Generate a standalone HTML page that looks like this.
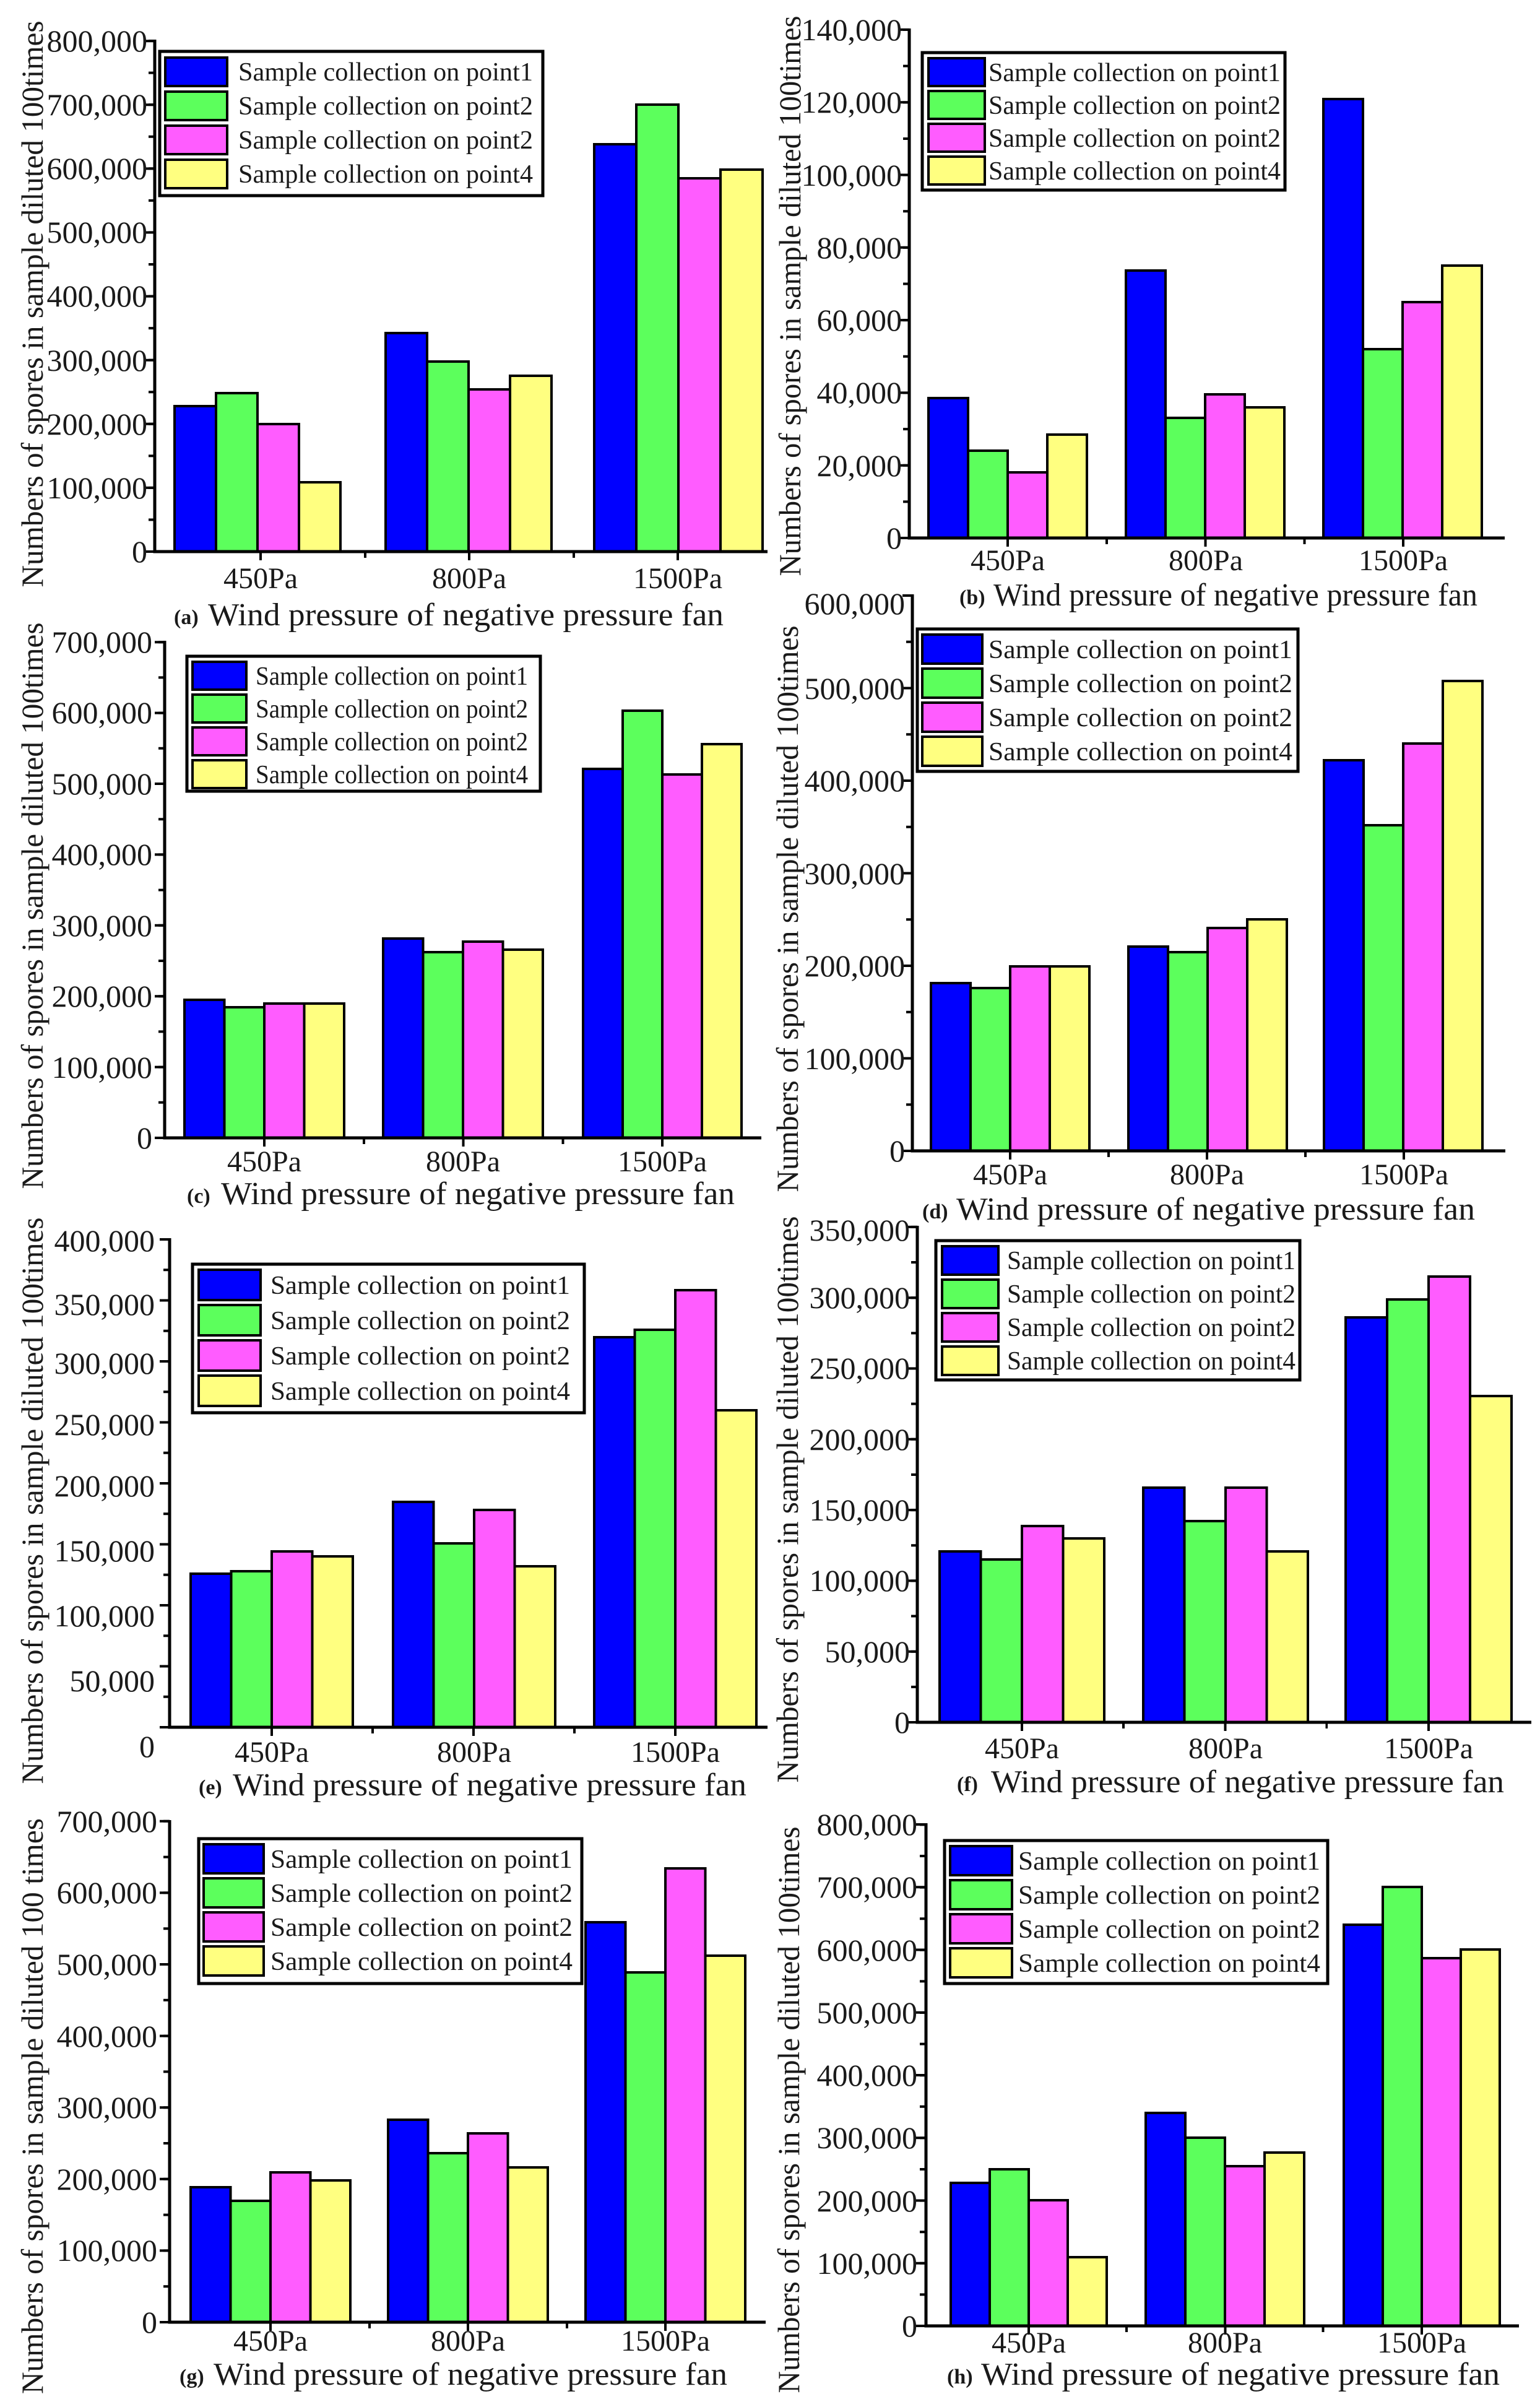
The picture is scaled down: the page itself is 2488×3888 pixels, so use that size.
<!DOCTYPE html>
<html><head><meta charset="utf-8">
<style>
html,body{margin:0;padding:0;background:#fff}
svg{display:block}
text{font-family:"Liberation Serif",serif;fill:#1a1a1a}
.bar rect{stroke:#000;stroke-width:4}
.B{fill:#0000ff}.G{fill:#5cff5c}.M{fill:#ff5cff}.Y{fill:#ffff80}
.ax{stroke:#000;stroke-width:5;fill:none}
.tl{font-size:50px;text-anchor:end}
.xl{font-size:48px;text-anchor:middle}
.yt{font-size:50px;text-anchor:middle}
.cp{font-size:34px;font-weight:bold}
.cm{font-size:52px}
.lg{font-size:42px}
.lbox{fill:#fff;stroke:#000;stroke-width:5}
</style></head><body>
<svg width="2488" height="3888" viewBox="0 0 2488 3888" xmlns="http://www.w3.org/2000/svg">
<rect width="2488" height="3888" fill="#fff"/>

<!-- ============ PANEL A ============ -->
<g class="bar">
<rect class="B" x="282" y="656" width="67" height="235"/><rect class="G" x="349" y="635" width="67" height="256"/><rect class="M" x="416" y="685" width="67" height="206"/><rect class="Y" x="483" y="779" width="67" height="112"/>
<rect class="B" x="623" y="538" width="67" height="353"/><rect class="G" x="690" y="584" width="67" height="307"/><rect class="M" x="757" y="629" width="67" height="262"/><rect class="Y" x="824" y="607" width="67" height="284"/>
<rect class="B" x="960" y="233" width="68" height="658"/><rect class="G" x="1028" y="169" width="68" height="722"/><rect class="M" x="1096" y="288" width="68" height="603"/><rect class="Y" x="1164" y="274" width="68" height="617"/>
</g>
<path class="ax" d="M250 64V891H1240"/>
<line x1="242" y1="893" x2="242" y2="60" stroke="#000" stroke-width="16" stroke-dasharray="4 99.1"/>
<line x1="245" y1="893" x2="245" y2="60" stroke="#000" stroke-width="10" stroke-dasharray="4 47.56"/>
<line x1="419" y1="898" x2="1100" y2="898" stroke="#000" stroke-width="14" stroke-dasharray="4 333"/>
<line x1="588" y1="896" x2="930" y2="896" stroke="#000" stroke-width="10" stroke-dasharray="4 333"/>
<text class="tl" x="238" y="908">0</text><text class="tl" x="238" y="805">100,000</text><text class="tl" x="238" y="702">200,000</text><text class="tl" x="238" y="599">300,000</text><text class="tl" x="238" y="495">400,000</text><text class="tl" x="238" y="392">500,000</text><text class="tl" x="238" y="289">600,000</text><text class="tl" x="238" y="186">700,000</text><text class="tl" x="238" y="83">800,000</text>
<text class="xl" x="421" y="950">450Pa</text><text class="xl" x="758" y="950">800Pa</text><text class="xl" x="1095" y="950">1500Pa</text>
<text class="yt" transform="translate(69,491) rotate(-90)" textLength="915" lengthAdjust="spacingAndGlyphs">Numbers of spores in sample diluted 100times</text>
<text class="cp" x="281" y="1008">(a)</text><text class="cm" x="336" y="1010" textLength="833" lengthAdjust="spacingAndGlyphs">Wind pressure of negative pressure fan</text>
<rect class="lbox" x="258" y="83" width="619" height="233"/>
<g class="bar"><rect class="B" x="267" y="93" width="100" height="46"/><rect class="G" x="267" y="148" width="100" height="46"/><rect class="M" x="267" y="203" width="100" height="46"/><rect class="Y" x="267" y="258" width="100" height="46"/></g>
<text class="lg" x="385" y="130" textLength="476" lengthAdjust="spacingAndGlyphs">Sample collection on point1</text>
<text class="lg" x="385" y="185" textLength="476" lengthAdjust="spacingAndGlyphs">Sample collection on point2</text>
<text class="lg" x="385" y="240" textLength="476" lengthAdjust="spacingAndGlyphs">Sample collection on point2</text>
<text class="lg" x="385" y="295" textLength="476" lengthAdjust="spacingAndGlyphs">Sample collection on point4</text>

<!-- ============ PANEL B ============ -->
<g class="bar">
<rect class="B" x="1500" y="643" width="64" height="226"/><rect class="G" x="1564" y="728" width="64" height="141"/><rect class="M" x="1628" y="763" width="64" height="106"/><rect class="Y" x="1692" y="702" width="64" height="167"/>
<rect class="B" x="1819" y="437" width="64" height="432"/><rect class="G" x="1883" y="675" width="64" height="194"/><rect class="M" x="1947" y="637" width="64" height="232"/><rect class="Y" x="2011" y="658" width="64" height="211"/>
<rect class="B" x="2138" y="160" width="64" height="709"/><rect class="G" x="2202" y="564" width="64" height="305"/><rect class="M" x="2266" y="488" width="64" height="381"/><rect class="Y" x="2330" y="429" width="64" height="440"/>
</g>
<path class="ax" d="M1469 46V869H2431"/>
<line x1="1461" y1="871" x2="1461" y2="44" stroke="#000" stroke-width="16" stroke-dasharray="4 113.3"/>
<line x1="1464" y1="871" x2="1464" y2="44" stroke="#000" stroke-width="10" stroke-dasharray="4 54.64"/>
<line x1="1626" y1="876" x2="2270" y2="876" stroke="#000" stroke-width="14" stroke-dasharray="4 315.5"/>
<line x1="1786" y1="874" x2="2110" y2="874" stroke="#000" stroke-width="10" stroke-dasharray="4 315.5"/>
<text class="tl" x="1457" y="886">0</text><text class="tl" x="1457" y="769">20,000</text><text class="tl" x="1457" y="651">40,000</text><text class="tl" x="1457" y="534">60,000</text><text class="tl" x="1457" y="417">80,000</text><text class="tl" x="1457" y="300">100,000</text><text class="tl" x="1457" y="182">120,000</text><text class="tl" x="1457" y="65">140,000</text>
<text class="xl" x="1628" y="921">450Pa</text><text class="xl" x="1948" y="921">800Pa</text><text class="xl" x="2267" y="921">1500Pa</text>
<text class="yt" transform="translate(1293,478) rotate(-90)" textLength="905" lengthAdjust="spacingAndGlyphs">Numbers of spores in sample diluted 100times</text>
<text class="cp" x="1550" y="976">(b)</text><text class="cm" x="1605" y="978" textLength="782" lengthAdjust="spacingAndGlyphs">Wind pressure of negative pressure fan</text>
<rect class="lbox" x="1490" y="85" width="586" height="222"/>
<g class="bar"><rect class="B" x="1500" y="94" width="91" height="45"/><rect class="G" x="1500" y="147" width="91" height="45"/><rect class="M" x="1500" y="200" width="91" height="45"/><rect class="Y" x="1500" y="253" width="91" height="45"/></g>
<text class="lg" x="1597" y="131" textLength="472" lengthAdjust="spacingAndGlyphs">Sample collection on point1</text>
<text class="lg" x="1597" y="184" textLength="472" lengthAdjust="spacingAndGlyphs">Sample collection on point2</text>
<text class="lg" x="1597" y="237" textLength="472" lengthAdjust="spacingAndGlyphs">Sample collection on point2</text>
<text class="lg" x="1597" y="290" textLength="472" lengthAdjust="spacingAndGlyphs">Sample collection on point4</text>

<!-- ============ PANEL C ============ -->
<g class="bar">
<rect class="B" x="298" y="1615" width="64.5" height="223"/><rect class="G" x="362.5" y="1627" width="64.5" height="211"/><rect class="M" x="427" y="1621" width="64.5" height="217"/><rect class="Y" x="491.5" y="1621" width="64.5" height="217"/>
<rect class="B" x="619" y="1516" width="64.5" height="322"/><rect class="G" x="683.5" y="1538" width="64.5" height="300"/><rect class="M" x="748" y="1521" width="64.5" height="317"/><rect class="Y" x="812.5" y="1534" width="64.5" height="304"/>
<rect class="B" x="942" y="1242" width="64" height="596"/><rect class="G" x="1006" y="1148" width="64" height="690"/><rect class="M" x="1070" y="1251" width="64" height="587"/><rect class="Y" x="1134" y="1202" width="64" height="636"/>
</g>
<path class="ax" d="M266 1035V1838H1230"/>
<line x1="258" y1="1840" x2="258" y2="1033" stroke="#000" stroke-width="16" stroke-dasharray="4 110.4"/>
<line x1="261" y1="1840" x2="261" y2="1033" stroke="#000" stroke-width="10" stroke-dasharray="4 53.2"/>
<line x1="425" y1="1845" x2="1075" y2="1845" stroke="#000" stroke-width="14" stroke-dasharray="4 317.5"/>
<line x1="586" y1="1843" x2="912" y2="1843" stroke="#000" stroke-width="10" stroke-dasharray="4 317.5"/>
<text class="tl" x="246" y="1855">0</text><text class="tl" x="246" y="1741">100,000</text><text class="tl" x="246" y="1626">200,000</text><text class="tl" x="246" y="1512">300,000</text><text class="tl" x="246" y="1397">400,000</text><text class="tl" x="246" y="1283">500,000</text><text class="tl" x="246" y="1168">600,000</text><text class="tl" x="246" y="1054">700,000</text>
<text class="xl" x="427" y="1892">450Pa</text><text class="xl" x="748" y="1892">800Pa</text><text class="xl" x="1070" y="1892">1500Pa</text>
<text class="yt" transform="translate(69,1463) rotate(-90)" textLength="915" lengthAdjust="spacingAndGlyphs">Numbers of spores in sample diluted 100times</text>
<text class="cp" x="302" y="1943">(c)</text><text class="cm" x="357" y="1945" textLength="830" lengthAdjust="spacingAndGlyphs">Wind pressure of negative pressure fan</text>
<rect class="lbox" x="302" y="1060" width="571" height="218"/>
<g class="bar"><rect class="B" x="311" y="1069" width="87" height="45"/><rect class="G" x="311" y="1122" width="87" height="45"/><rect class="M" x="311" y="1175" width="87" height="45"/><rect class="Y" x="311" y="1228" width="87" height="45"/></g>
<text class="lg" x="413" y="1106" textLength="440" lengthAdjust="spacingAndGlyphs">Sample collection on point1</text>
<text class="lg" x="413" y="1159" textLength="440" lengthAdjust="spacingAndGlyphs">Sample collection on point2</text>
<text class="lg" x="413" y="1212" textLength="440" lengthAdjust="spacingAndGlyphs">Sample collection on point2</text>
<text class="lg" x="413" y="1265" textLength="440" lengthAdjust="spacingAndGlyphs">Sample collection on point4</text>

<!-- ============ PANEL D ============ -->
<g class="bar">
<rect class="B" x="1504" y="1588" width="64" height="271"/><rect class="G" x="1568" y="1596" width="64" height="263"/><rect class="M" x="1632" y="1561" width="64" height="298"/><rect class="Y" x="1696" y="1561" width="64" height="298"/>
<rect class="B" x="1823" y="1529" width="64" height="330"/><rect class="G" x="1887" y="1538" width="64" height="321"/><rect class="M" x="1951" y="1499" width="64" height="360"/><rect class="Y" x="2015" y="1485" width="64" height="374"/>
<rect class="B" x="2139" y="1228" width="64" height="631"/><rect class="G" x="2203" y="1333" width="64" height="526"/><rect class="M" x="2267" y="1201" width="64" height="658"/><rect class="Y" x="2331" y="1100" width="64" height="759"/>
</g>
<path class="ax" d="M1474 960V1859H2432"/>
<line x1="1466" y1="1861" x2="1466" y2="958" stroke="#000" stroke-width="16" stroke-dasharray="4 145.5"/>
<line x1="1469" y1="1861" x2="1469" y2="958" stroke="#000" stroke-width="10" stroke-dasharray="4 70.75"/>
<line x1="1630" y1="1866" x2="2272" y2="1866" stroke="#000" stroke-width="14" stroke-dasharray="4 314"/>
<line x1="1789" y1="1864" x2="2111" y2="1864" stroke="#000" stroke-width="10" stroke-dasharray="4 314"/>
<text class="tl" x="1462" y="1876">0</text><text class="tl" x="1462" y="1727">100,000</text><text class="tl" x="1462" y="1577">200,000</text><text class="tl" x="1462" y="1428">300,000</text><text class="tl" x="1462" y="1278">400,000</text><text class="tl" x="1462" y="1129">500,000</text><text class="tl" x="1462" y="992">600,000</text>
<text class="xl" x="1632" y="1913">450Pa</text><text class="xl" x="1950" y="1913">800Pa</text><text class="xl" x="2268" y="1913">1500Pa</text>
<text class="yt" transform="translate(1289,1468) rotate(-90)" textLength="915" lengthAdjust="spacingAndGlyphs">Numbers of spores in sample diluted 100times</text>
<text class="cp" x="1490" y="1968">(d)</text><text class="cm" x="1545" y="1970" textLength="838" lengthAdjust="spacingAndGlyphs">Wind pressure of negative pressure fan</text>
<rect class="lbox" x="1482" y="1016" width="615" height="230"/>
<g class="bar"><rect class="B" x="1490" y="1025" width="97" height="47"/><rect class="G" x="1490" y="1080" width="97" height="47"/><rect class="M" x="1490" y="1135" width="97" height="47"/><rect class="Y" x="1490" y="1190" width="97" height="47"/></g>
<text class="lg" x="1597" y="1063" textLength="491" lengthAdjust="spacingAndGlyphs">Sample collection on point1</text>
<text class="lg" x="1597" y="1118" textLength="491" lengthAdjust="spacingAndGlyphs">Sample collection on point2</text>
<text class="lg" x="1597" y="1173" textLength="491" lengthAdjust="spacingAndGlyphs">Sample collection on point2</text>
<text class="lg" x="1597" y="1228" textLength="491" lengthAdjust="spacingAndGlyphs">Sample collection on point4</text>

<!-- ============ PANEL E ============ -->
<g class="bar">
<rect class="B" x="308" y="2542" width="65.5" height="248"/><rect class="G" x="373.5" y="2538" width="65.5" height="252"/><rect class="M" x="439" y="2506" width="65.5" height="284"/><rect class="Y" x="504.5" y="2514" width="65.5" height="276"/>
<rect class="B" x="635" y="2426" width="65.5" height="364"/><rect class="G" x="700.5" y="2493" width="65.5" height="297"/><rect class="M" x="766" y="2439" width="65.5" height="351"/><rect class="Y" x="831.5" y="2530" width="65.5" height="260"/>
<rect class="B" x="960" y="2160" width="65.5" height="630"/><rect class="G" x="1025.5" y="2148" width="65.5" height="642"/><rect class="M" x="1091" y="2084" width="65.5" height="706"/><rect class="Y" x="1156.5" y="2278" width="65.5" height="512"/>
</g>
<path class="ax" d="M274 2000V2790H1240"/>
<line x1="266" y1="2792" x2="266" y2="1998" stroke="#000" stroke-width="16" stroke-dasharray="4 94.5"/>
<line x1="269" y1="2792" x2="269" y2="1998" stroke="#000" stroke-width="10" stroke-dasharray="4 45.25"/>
<line x1="437" y1="2797" x2="1096" y2="2797" stroke="#000" stroke-width="14" stroke-dasharray="4 322"/>
<line x1="600" y1="2795" x2="930" y2="2795" stroke="#000" stroke-width="10" stroke-dasharray="4 322"/>
<text class="tl" x="250" y="2838">0</text><text class="tl" x="250" y="2732">50,000</text><text class="tl" x="250" y="2627">100,000</text><text class="tl" x="250" y="2522">150,000</text><text class="tl" x="250" y="2417">200,000</text><text class="tl" x="250" y="2318">250,000</text><text class="tl" x="250" y="2219">300,000</text><text class="tl" x="250" y="2124">350,000</text><text class="tl" x="250" y="2021">400,000</text>
<text class="xl" x="439" y="2846">450Pa</text><text class="xl" x="766" y="2846">800Pa</text><text class="xl" x="1091" y="2846">1500Pa</text>
<text class="yt" transform="translate(69,2424) rotate(-90)" textLength="915" lengthAdjust="spacingAndGlyphs">Numbers of spores in sample diluted 100times</text>
<text class="cp" x="321" y="2898">(e)</text><text class="cm" x="376" y="2900" textLength="830" lengthAdjust="spacingAndGlyphs">Wind pressure of negative pressure fan</text>
<rect class="lbox" x="311" y="2042" width="633" height="240"/>
<g class="bar"><rect class="B" x="321" y="2051" width="100" height="49"/><rect class="G" x="321" y="2108" width="100" height="49"/><rect class="M" x="321" y="2165" width="100" height="49"/><rect class="Y" x="321" y="2222" width="100" height="49"/></g>
<text class="lg" x="437" y="2090" textLength="484" lengthAdjust="spacingAndGlyphs">Sample collection on point1</text>
<text class="lg" x="437" y="2147" textLength="484" lengthAdjust="spacingAndGlyphs">Sample collection on point2</text>
<text class="lg" x="437" y="2204" textLength="484" lengthAdjust="spacingAndGlyphs">Sample collection on point2</text>
<text class="lg" x="437" y="2261" textLength="484" lengthAdjust="spacingAndGlyphs">Sample collection on point4</text>

<!-- ============ PANEL F ============ -->
<g class="bar">
<rect class="B" x="1518" y="2506" width="66.5" height="276"/><rect class="G" x="1584.5" y="2519" width="66.5" height="263"/><rect class="M" x="1651" y="2465" width="66.5" height="317"/><rect class="Y" x="1717.5" y="2485" width="66.5" height="297"/>
<rect class="B" x="1847" y="2403" width="66.5" height="379"/><rect class="G" x="1913.5" y="2457" width="66.5" height="325"/><rect class="M" x="1980" y="2403" width="66.5" height="379"/><rect class="Y" x="2046.5" y="2506" width="66.5" height="276"/>
<rect class="B" x="2174" y="2128" width="67" height="654"/><rect class="G" x="2241" y="2099" width="67" height="683"/><rect class="M" x="2308" y="2062" width="67" height="720"/><rect class="Y" x="2375" y="2255" width="67" height="527"/>
</g>
<path class="ax" d="M1482 1980V2782H2474"/>
<line x1="1474" y1="2784" x2="1474" y2="1978" stroke="#000" stroke-width="16" stroke-dasharray="4 110.3"/>
<line x1="1477" y1="2784" x2="1477" y2="1978" stroke="#000" stroke-width="10" stroke-dasharray="4 53.15"/>
<line x1="1649" y1="2789" x2="2313" y2="2789" stroke="#000" stroke-width="14" stroke-dasharray="4 324.5"/>
<line x1="1813" y1="2787" x2="2145" y2="2787" stroke="#000" stroke-width="10" stroke-dasharray="4 324.5"/>
<text class="tl" x="1470" y="2799">0</text><text class="tl" x="1470" y="2685">50,000</text><text class="tl" x="1470" y="2570">100,000</text><text class="tl" x="1470" y="2456">150,000</text><text class="tl" x="1470" y="2342">200,000</text><text class="tl" x="1470" y="2227">250,000</text><text class="tl" x="1470" y="2113">300,000</text><text class="tl" x="1470" y="2004">350,000</text>
<text class="xl" x="1651" y="2840">450Pa</text><text class="xl" x="1980" y="2840">800Pa</text><text class="xl" x="2308" y="2840">1500Pa</text>
<text class="yt" transform="translate(1289,2422) rotate(-90)" textLength="915" lengthAdjust="spacingAndGlyphs">Numbers of spores in sample diluted 100times</text>
<text class="cp" x="1546" y="2893">(f)</text><text class="cm" x="1601" y="2895" textLength="829" lengthAdjust="spacingAndGlyphs">Wind pressure of negative pressure fan</text>
<rect class="lbox" x="1512" y="2004" width="588" height="225"/>
<g class="bar"><rect class="B" x="1522" y="2013" width="91" height="46"/><rect class="G" x="1522" y="2067" width="91" height="46"/><rect class="M" x="1522" y="2121" width="91" height="46"/><rect class="Y" x="1522" y="2175" width="91" height="46"/></g>
<text class="lg" x="1627" y="2050" textLength="466" lengthAdjust="spacingAndGlyphs">Sample collection on point1</text>
<text class="lg" x="1627" y="2104" textLength="466" lengthAdjust="spacingAndGlyphs">Sample collection on point2</text>
<text class="lg" x="1627" y="2158" textLength="466" lengthAdjust="spacingAndGlyphs">Sample collection on point2</text>
<text class="lg" x="1627" y="2212" textLength="466" lengthAdjust="spacingAndGlyphs">Sample collection on point4</text>

<!-- ============ PANEL G ============ -->
<g class="bar">
<rect class="B" x="308" y="3533" width="64.5" height="218"/><rect class="G" x="372.5" y="3555" width="64.5" height="196"/><rect class="M" x="437" y="3509" width="64.5" height="242"/><rect class="Y" x="501.5" y="3522" width="64.5" height="229"/>
<rect class="B" x="627" y="3424" width="64.5" height="327"/><rect class="G" x="691.5" y="3478" width="64.5" height="273"/><rect class="M" x="756" y="3446" width="64.5" height="305"/><rect class="Y" x="820.5" y="3501" width="64.5" height="250"/>
<rect class="B" x="946" y="3105" width="64.5" height="646"/><rect class="G" x="1010.5" y="3186" width="64.5" height="565"/><rect class="M" x="1075" y="3018" width="64.5" height="733"/><rect class="Y" x="1139.5" y="3159" width="64.5" height="592"/>
</g>
<path class="ax" d="M274 2940V3751H1237"/>
<line x1="266" y1="3753" x2="266" y2="2938" stroke="#000" stroke-width="16" stroke-dasharray="4 111.6"/>
<line x1="269" y1="3753" x2="269" y2="2938" stroke="#000" stroke-width="10" stroke-dasharray="4 53.8"/>
<line x1="435" y1="3758" x2="1080" y2="3758" stroke="#000" stroke-width="14" stroke-dasharray="4 315"/>
<line x1="595" y1="3756" x2="920" y2="3756" stroke="#000" stroke-width="10" stroke-dasharray="4 315"/>
<text class="tl" x="254" y="3768">0</text><text class="tl" x="254" y="3652">100,000</text><text class="tl" x="254" y="3537">200,000</text><text class="tl" x="254" y="3421">300,000</text><text class="tl" x="254" y="3306">400,000</text><text class="tl" x="254" y="3190">500,000</text><text class="tl" x="254" y="3074">600,000</text><text class="tl" x="254" y="2959">700,000</text>
<text class="xl" x="437" y="3797">450Pa</text><text class="xl" x="756" y="3797">800Pa</text><text class="xl" x="1075" y="3797">1500Pa</text>
<text class="yt" transform="translate(69,3402) rotate(-90)" textLength="930" lengthAdjust="spacingAndGlyphs">Numbers of spores in sample diluted 100 times</text>
<text class="cp" x="290" y="3850">(g)</text><text class="cm" x="345" y="3852" textLength="830" lengthAdjust="spacingAndGlyphs">Wind pressure of negative pressure fan</text>
<rect class="lbox" x="321" y="2970" width="619" height="234"/>
<g class="bar"><rect class="B" x="329" y="2979" width="97" height="47"/><rect class="G" x="329" y="3034" width="97" height="47"/><rect class="M" x="329" y="3089" width="97" height="47"/><rect class="Y" x="329" y="3144" width="97" height="47"/></g>
<text class="lg" x="437" y="3017" textLength="488" lengthAdjust="spacingAndGlyphs">Sample collection on point1</text>
<text class="lg" x="437" y="3072" textLength="488" lengthAdjust="spacingAndGlyphs">Sample collection on point2</text>
<text class="lg" x="437" y="3127" textLength="488" lengthAdjust="spacingAndGlyphs">Sample collection on point2</text>
<text class="lg" x="437" y="3182" textLength="488" lengthAdjust="spacingAndGlyphs">Sample collection on point4</text>

<!-- ============ PANEL H ============ -->
<g class="bar">
<rect class="B" x="1536" y="3526" width="63" height="231"/><rect class="G" x="1599" y="3504" width="63" height="253"/><rect class="M" x="1662" y="3554" width="63" height="203"/><rect class="Y" x="1725" y="3646" width="63" height="111"/>
<rect class="B" x="1851" y="3413" width="64" height="344"/><rect class="G" x="1915" y="3453" width="64" height="304"/><rect class="M" x="1979" y="3499" width="64" height="258"/><rect class="Y" x="2043" y="3477" width="64" height="280"/>
<rect class="B" x="2171" y="3109" width="63" height="648"/><rect class="G" x="2234" y="3048" width="63" height="709"/><rect class="M" x="2297" y="3163" width="63" height="594"/><rect class="Y" x="2360" y="3149" width="63" height="608"/>
</g>
<path class="ax" d="M1496 2945V3757H2454"/>
<line x1="1488" y1="3759" x2="1488" y2="2943" stroke="#000" stroke-width="16" stroke-dasharray="4 97.25"/>
<line x1="1491" y1="3759" x2="1491" y2="2943" stroke="#000" stroke-width="10" stroke-dasharray="4 46.6"/>
<line x1="1660" y1="3764" x2="2300" y2="3764" stroke="#000" stroke-width="14" stroke-dasharray="4 313.5"/>
<line x1="1818" y1="3762" x2="2140" y2="3762" stroke="#000" stroke-width="10" stroke-dasharray="4 313.5"/>
<text class="tl" x="1482" y="3774">0</text><text class="tl" x="1482" y="3673">100,000</text><text class="tl" x="1482" y="3572">200,000</text><text class="tl" x="1482" y="3470">300,000</text><text class="tl" x="1482" y="3369">400,000</text><text class="tl" x="1482" y="3268">500,000</text><text class="tl" x="1482" y="3167">600,000</text><text class="tl" x="1482" y="3065">700,000</text><text class="tl" x="1482" y="2964">800,000</text>
<text class="xl" x="1662" y="3800">450Pa</text><text class="xl" x="1979" y="3800">800Pa</text><text class="xl" x="2297" y="3800">1500Pa</text>
<text class="yt" transform="translate(1291,3408) rotate(-90)" textLength="915" lengthAdjust="spacingAndGlyphs">Numbers of spores in sample diluted 100times</text>
<text class="cp" x="1530" y="3850">(h)</text><text class="cm" x="1585" y="3852" textLength="838" lengthAdjust="spacingAndGlyphs">Wind pressure of negative pressure fan</text>
<rect class="lbox" x="1526" y="2973" width="619" height="231"/>
<g class="bar"><rect class="B" x="1535" y="2982" width="100" height="47"/><rect class="G" x="1535" y="3037" width="100" height="47"/><rect class="M" x="1535" y="3092" width="100" height="47"/><rect class="Y" x="1535" y="3147" width="100" height="47"/></g>
<text class="lg" x="1645" y="3020" textLength="488" lengthAdjust="spacingAndGlyphs">Sample collection on point1</text>
<text class="lg" x="1645" y="3075" textLength="488" lengthAdjust="spacingAndGlyphs">Sample collection on point2</text>
<text class="lg" x="1645" y="3130" textLength="488" lengthAdjust="spacingAndGlyphs">Sample collection on point2</text>
<text class="lg" x="1645" y="3185" textLength="488" lengthAdjust="spacingAndGlyphs">Sample collection on point4</text>
</svg>
</body></html>
